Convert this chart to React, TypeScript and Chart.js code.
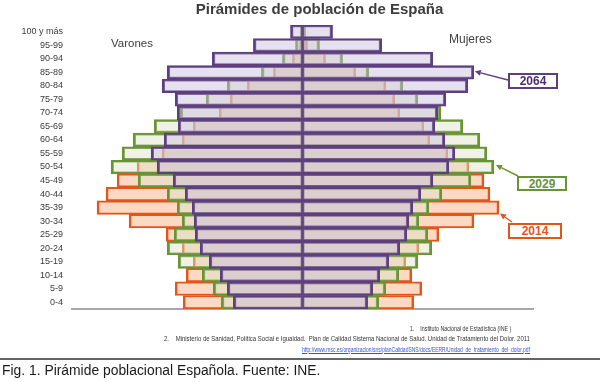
import React, { useEffect, useLayoutEffect, useRef } from "react";
import { Chart, registerables } from "chart.js";

Chart.register(...registerables);

// Age groups, top to bottom as in the picture
const ageGroups = [
  "100 y más", "95-99", "90-94", "85-89", "80-84", "75-79", "70-74", "65-69",
  "60-64", "55-59", "50-54", "45-49", "40-44", "35-39", "30-34", "25-29",
  "20-24", "15-19", "10-14", "5-9", "0-4",
];

// Population in thousands
const men2014 = [10, 30, 100, 290, 550, 720, 830, 1090, 1200, 1400, 1650, 1850, 1960, 2050, 1730, 1360, 1200, 1090, 1160, 1270, 1190];
const women2014 = [15, 50, 230, 530, 830, 920, 970, 1210, 1270, 1450, 1660, 1810, 1870, 1960, 1710, 1360, 1160, 1030, 1090, 1190, 1110];
const men2029 = [20, 70, 200, 410, 750, 960, 1220, 1480, 1690, 1800, 1910, 1640, 1350, 1250, 1200, 1280, 1350, 1240, 1000, 890, 810];
const women2029 = [30, 170, 400, 660, 1000, 1150, 1380, 1600, 1770, 1840, 1910, 1680, 1390, 1260, 1160, 1250, 1290, 1150, 960, 830, 760];
const men2064 = [120, 490, 900, 1350, 1400, 1270, 1250, 1240, 1380, 1510, 1450, 1290, 1170, 1100, 1080, 1070, 1020, 930, 820, 750, 690];
const women2064 = [300, 790, 1300, 1710, 1650, 1430, 1350, 1320, 1420, 1520, 1460, 1300, 1180, 1100, 1060, 1040, 970, 860, 770, 700, 650];

const xLimit = 2300;

const PURPLE = "#5e3f7e";
const GREEN = "#6a9338";
const ORANGE = "#e2561c";
const FILL2064 = "rgba(200,188,220,0.45)";
const FILL2029 = "rgba(220,227,197,0.45)";
const FILL2014 = "#fcd9c3";

const TITLE = "Pirámides de población de España";
const CAPTION = "Fig. 1. Pirámide poblacional Española. Fuente: INE.";
const REF1 = "1.    Instituto Nacional de Estadística (INE )";
const REF2 = "2.    Ministerio de Sanidad, Política Social e Igualdad.  Plan de Calidad Sistema Nacional de Salud. Unidad de Tratamiento del Dolor. 2011";
const REF3 = "http://www.msc.es/organizacion/sns/planCalidadSNS/docs/EERR/Unidad_de_tratamiento_del_dolor.pdf";

const FONT = "'Liberation Sans', Arial, sans-serif";

function FitText(props: {
  text: string; left: number; top: number; width: number; fontSize: number;
  color: string; bold?: boolean; underline?: boolean;
}) {
  const ref = useRef<HTMLSpanElement>(null);
  useLayoutEffect(() => {
    const el = ref.current;
    if (!el) return;
    el.style.transform = "none";
    const w = el.offsetWidth;
    if (w > 0) el.style.transform = `scaleX(${props.width / w})`;
  }, [props.text, props.width]);
  return (
    <span
      ref={ref}
      style={{
        position: "absolute", left: props.left, top: props.top, fontSize: props.fontSize,
        lineHeight: 1, whiteSpace: "pre", transformOrigin: "left top", color: props.color,
        fontWeight: props.bold ? "bold" : "normal", fontFamily: FONT,
        textDecoration: props.underline ? "underline" : "none", display: "inline-block",
      }}
    >
      {props.text}
    </span>
  );
}

function Callout(props: { text: string; left: number; top: number; width: number; height: number; color: string; textColor: string }) {
  return (
    <div
      style={{
        position: "absolute", left: props.left, top: props.top, width: props.width, height: props.height,
        boxSizing: "border-box", border: `2px solid ${props.color}`, background: "#fff",
        display: "flex", alignItems: "center", justifyContent: "center",
        fontFamily: FONT, fontWeight: "bold", fontSize: 12, color: props.textColor, lineHeight: 1,
      }}
    >
      {props.text}
    </div>
  );
}

export default function App() {
  const canvasRef = useRef<HTMLCanvasElement>(null);

  useEffect(() => {
    const canvas = canvasRef.current;
    if (!canvas) return;

    const common = {
      borderSkipped: false as const,
      grouped: false,
      barPercentage: 1,
      categoryPercentage: 1,
    };
    const menBorder = { top: 2, bottom: 2, left: 2.5, right: 1.5 };
    const womenBorder = { top: 2, bottom: 2, left: 1.5, right: 2.5 };

    const arrowPlugin = {
      id: "arrows",
      afterDraw(chart: any) {
        const ctx = chart.ctx;
        const xs = chart.scales.x;
        const ys = chart.scales.y;
        const i64 = ageGroups.indexOf("85-89");
        const i29 = ageGroups.indexOf("50-54");
        const i14 = ageGroups.indexOf("35-39");
        const arrows = [
          { from: [508, 80], to: [xs.getPixelForValue(women2064[i64]) + 1, ys.getPixelForValue(i64) - 1], color: PURPLE },
          { from: [518, 176], to: [xs.getPixelForValue(women2029[i29]) + 2, ys.getPixelForValue(i29) - 2], color: GREEN },
          { from: [512, 222], to: [xs.getPixelForValue(women2014[i14]) + 1, ys.getPixelForValue(i14) + 6], color: ORANGE },
        ];
        ctx.save();
        for (const a of arrows) {
          const [x1, y1] = a.from;
          const [x2, y2] = a.to;
          const ang = Math.atan2(y2 - y1, x2 - x1);
          const len = 6, hw = 3;
          const bx = x2 - len * Math.cos(ang), by = y2 - len * Math.sin(ang);
          ctx.strokeStyle = a.color;
          ctx.fillStyle = a.color;
          ctx.lineWidth = 1.5;
          ctx.beginPath();
          ctx.moveTo(x1, y1);
          ctx.lineTo(bx, by);
          ctx.stroke();
          ctx.beginPath();
          ctx.moveTo(x2, y2);
          ctx.lineTo(bx + hw * Math.sin(ang), by - hw * Math.cos(ang));
          ctx.lineTo(bx - hw * Math.sin(ang), by + hw * Math.cos(ang));
          ctx.closePath();
          ctx.fill();
        }
        ctx.restore();
      },
    };

    const chart = new Chart(canvas, {
      type: "bar",
      data: {
        labels: ageGroups,
        datasets: [
          { label: "2064 Varones", data: men2064.map((v) => -v), backgroundColor: FILL2064, borderColor: PURPLE, borderWidth: menBorder, order: 0, ...common },
          { label: "2064 Mujeres", data: women2064, backgroundColor: FILL2064, borderColor: PURPLE, borderWidth: womenBorder, order: 0, ...common },
          { label: "2029 Varones", data: men2029.map((v) => -v), backgroundColor: FILL2029, borderColor: GREEN, borderWidth: menBorder, order: 1, ...common },
          { label: "2029 Mujeres", data: women2029, backgroundColor: FILL2029, borderColor: GREEN, borderWidth: womenBorder, order: 1, ...common },
          { label: "2014 Varones", data: men2014.map((v) => -v), backgroundColor: FILL2014, borderColor: ORANGE, borderWidth: menBorder, order: 2, ...common },
          { label: "2014 Mujeres", data: women2014, backgroundColor: FILL2014, borderColor: ORANGE, borderWidth: womenBorder, order: 2, ...common },
        ] as any,
      },
      options: {
        indexAxis: "y",
        responsive: false,
        animation: false,
        layout: { padding: { left: 0, right: 67, top: 25, bottom: 73 } },
        plugins: { legend: { display: false }, tooltip: { enabled: false }, title: { display: false } },
        scales: {
          x: {
            type: "linear",
            min: -xLimit,
            max: xLimit,
            ticks: { display: false },
            grid: { display: false, drawTicks: false },
            border: { display: true, color: "#a8a8a8", width: 2 },
            afterFit: (s: any) => { s.height = 0; },
          },
          y: {
            type: "category",
            ticks: { color: "#3a3a3a", padding: 9, autoSkip: false, font: { family: FONT, size: 9 } },
            grid: { display: false, drawTicks: false },
            border: { display: false },
            afterFit: (s: any) => { s.width = 72; },
          },
        },
      } as any,
      plugins: [arrowPlugin],
    });

    return () => chart.destroy();
  }, []);

  return (
    <div style={{ position: "fixed", left: 0, top: 0, width: 600, height: 382, background: "#fff", overflow: "hidden" }}>
      <canvas ref={canvasRef} width={600} height={382} style={{ position: "absolute", left: 0, top: 0, width: 600, height: 382 }} />
      <div style={{ position: "absolute", left: 169.5, top: 1.3, width: 300, textAlign: "center", fontFamily: FONT, fontWeight: "bold", fontSize: 15, lineHeight: 1, color: "#3d3d3d", whiteSpace: "nowrap" }}>
        {TITLE}
      </div>
      <div style={{ position: "absolute", left: 111, top: 38, fontFamily: FONT, fontSize: 11.5, lineHeight: 1, color: "#404040" }}>Varones</div>
      <div style={{ position: "absolute", left: 449, top: 33.1, fontFamily: FONT, fontSize: 12, lineHeight: 1, color: "#404040" }}>Mujeres</div>

      <Callout text="2064" left={508} top={73} width={50} height={16} color={PURPLE} textColor="#4d2f6e" />
      <Callout text="2029" left={517} top={176} width={50} height={15} color={GREEN} textColor={GREEN} />
      <Callout text="2014" left={508} top={223} width={54} height={16} color={ORANGE} textColor={ORANGE} />

      <FitText text={REF1} left={410} top={324.6} width={101} fontSize={7} color="#333" />
      <FitText text={REF2} left={164} top={335.3} width={366} fontSize={7} color="#333" />
      <FitText text={REF3} left={302} top={345.6} width={228} fontSize={7} color="#3355cc" underline />

      <div style={{ position: "absolute", left: 0, top: 357.5, width: 600, height: 2, background: "#666" }} />
      <FitText text={CAPTION} left={2} top={363} width={318} fontSize={14} color="#1a1a1a" />
    </div>
  );
}
